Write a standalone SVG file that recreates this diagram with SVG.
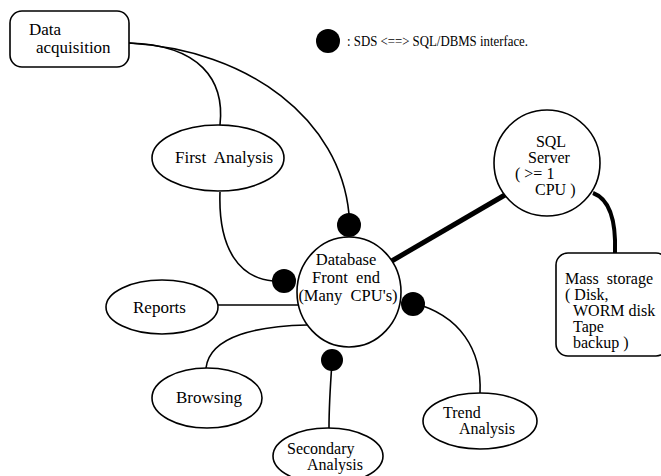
<svg xmlns="http://www.w3.org/2000/svg" width="661" height="476" viewBox="0 0 661 476">
<style>
.n{fill:#fff;stroke:#000;stroke-width:1.6}
.t{font-family:'Liberation Serif','Times New Roman',Times,serif;font-size:17px;fill:#000}
.s{font-size:16px}
.c{fill:none;stroke:#000;stroke-width:1.6}
.k{fill:none;stroke:#000;stroke-width:5}
.d{fill:#000}
</style>
<rect width="661" height="476" fill="#fff"/>
<g id="connectors">
<path class="c" d="M129,43 C200,45 225,80 220,125"/>
<path class="c" d="M129,43 C250,50 340,120 349,214"/>
<path class="c" d="M220,192 C218,250 240,278 273,281"/>
<path class="c" d="M218,305 L300,305"/>
<path class="c" d="M206,368 C210,335 260,326 307,325"/>
<path class="c" d="M332,362 C330,390 329,405 329,428"/>
<path class="c" d="M413,303 C460,315 482,350 480,393"/>
<path class="k" d="M390,262 L510,192"/>
<path class="k" style="stroke-width:4" d="M593,193 C612,200 616,225 615,253"/>
</g>
<g id="data-acquisition">
<rect class="n" x="10" y="11" width="119" height="56" rx="12"/>
<text class="t" x="29" y="35">Data</text>
<text class="t" x="36" y="53">acquisition</text>
</g>
<g id="first-analysis">
<ellipse class="n" cx="218" cy="158" rx="66" ry="33"/>
<text class="t" x="175" y="163" xml:space="preserve">First  Analysis</text>
</g>
<g id="database">
<ellipse class="n" cx="349" cy="292" rx="52" ry="55"/>
<text class="t" style="font-size:16.5px" x="346" y="265" text-anchor="middle">Database</text>
<text class="t" style="font-size:16.5px" x="346" y="283" text-anchor="middle" xml:space="preserve">Front  end</text>
<text class="t" style="font-size:16.5px" x="348" y="301" text-anchor="middle" xml:space="preserve">(Many  CPU's)</text>
</g>
<g id="dots">
<circle class="d" cx="349" cy="225" r="12"/>
<circle class="d" cx="284" cy="281" r="12"/>
<circle class="d" cx="413" cy="304" r="12"/>
<circle class="d" cx="332" cy="360" r="11"/>
</g>
<g id="legend">
<circle class="d" cx="328" cy="41" r="12"/>
<text class="t" style="font-size:15px" x="347" y="46" textLength="181" lengthAdjust="spacingAndGlyphs">: SDS &lt;==&gt; SQL/DBMS interface.</text>
</g>
<g id="reports">
<ellipse class="n" cx="162" cy="307" rx="56" ry="27"/>
<text class="t" x="133" y="313">Reports</text>
</g>
<g id="browsing">
<ellipse class="n" cx="207" cy="398" rx="55" ry="30"/>
<text class="t" x="176" y="403">Browsing</text>
</g>
<g id="secondary-analysis">
<ellipse class="n" cx="328" cy="456" rx="55" ry="28"/>
<text class="t s" x="287" y="454">Secondary</text>
<text class="t s" x="307" y="470">Analysis</text>
</g>
<g id="trend-analysis">
<ellipse class="n" cx="480" cy="421" rx="57" ry="28"/>
<text class="t s" x="443" y="418">Trend</text>
<text class="t s" x="459" y="434">Analysis</text>
</g>
<g id="sql-server">
<circle class="n" cx="547" cy="163" r="53"/>
<text class="t s" x="551" y="147" text-anchor="middle">SQL</text>
<text class="t s" x="549" y="163" text-anchor="middle">Server</text>
<text class="t s" x="515" y="179" xml:space="preserve">( &gt;= 1</text>
<text class="t s" x="535" y="195">CPU )</text>
</g>
<g id="mass-storage">
<rect class="n" x="556" y="253" width="112" height="103" rx="12"/>
<text class="t s" x="565" y="284" xml:space="preserve">Mass  storage</text>
<text class="t s" x="565" y="300">( Disk,</text>
<text class="t s" x="573" y="316">WORM disk</text>
<text class="t s" x="573" y="332">Tape</text>
<text class="t s" x="573" y="348">backup )</text>
</g>
</svg>
